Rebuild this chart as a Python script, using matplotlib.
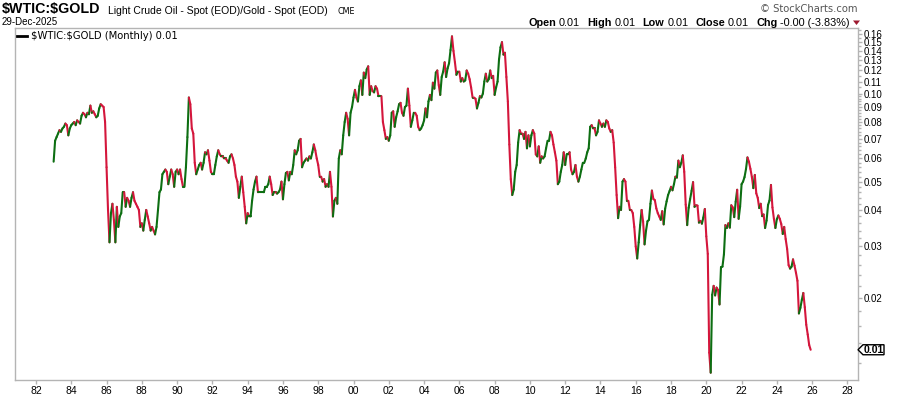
import numpy as np
import matplotlib
matplotlib.use("Agg")
import matplotlib.pyplot as plt
from matplotlib.collections import LineCollection
from matplotlib.patches import Polygon
from matplotlib.lines import Line2D

# ---------------- data: monthly $WTIC:$GOLD ratio, Jan 1983 .. Dec 2025 ----------------
start_year = 1983
r1983 = [0.0585, 0.069, 0.071, 0.073, 0.075, 0.074, 0.076, 0.077, 0.079, 0.078, 0.072, 0.076]
r1984 = [0.078, 0.079, 0.080, 0.078, 0.081, 0.080, 0.079, 0.084, 0.086, 0.085, 0.083, 0.086]
r1985 = [0.085, 0.091, 0.086, 0.087, 0.085, 0.083, 0.084, 0.089, 0.092, 0.091, 0.090, 0.080]
r1986 = [0.056, 0.040, 0.031, 0.039, 0.042, 0.037, 0.031, 0.041, 0.035, 0.038, 0.039, 0.046]
r1987 = [0.046, 0.041, 0.044, 0.043, 0.041, 0.044, 0.046, 0.043, 0.042, 0.041, 0.040, 0.035]
r1988 = [0.036, 0.034, 0.037, 0.040, 0.038, 0.036, 0.034, 0.035, 0.034, 0.033, 0.035, 0.040]
r1989 = [0.046, 0.047, 0.053, 0.054, 0.055, 0.054, 0.049, 0.052, 0.055, 0.053, 0.048, 0.054]
r1990 = [0.055, 0.053, 0.055, 0.051, 0.048, 0.048, 0.056, 0.071, 0.097, 0.092, 0.076, 0.073]
r1991 = [0.058, 0.053, 0.055, 0.057, 0.058, 0.055, 0.058, 0.063, 0.062, 0.064, 0.059, 0.054]
r1992 = [0.053, 0.053, 0.057, 0.061, 0.064, 0.062, 0.061, 0.061, 0.060, 0.060, 0.059, 0.058]
r1993 = [0.061, 0.062, 0.060, 0.057, 0.052, 0.050, 0.044, 0.048, 0.052, 0.046, 0.041, 0.036]
r1994 = [0.039, 0.038, 0.038, 0.043, 0.047, 0.050, 0.052, 0.046, 0.046, 0.046, 0.046, 0.046]
r1995 = [0.048, 0.048, 0.049, 0.052, 0.049, 0.045, 0.046, 0.046, 0.0455, 0.046, 0.047, 0.050]
r1996 = [0.0435, 0.049, 0.0535, 0.054, 0.0505, 0.054, 0.053, 0.057, 0.064, 0.062, 0.064, 0.069]
r1997 = [0.070, 0.056, 0.058, 0.059, 0.060, 0.059, 0.061, 0.060, 0.063, 0.067, 0.064, 0.060]
r1998 = [0.057, 0.052, 0.052, 0.050, 0.051, 0.048, 0.049, 0.048, 0.054, 0.048, 0.038, 0.043]
r1999 = [0.044, 0.042, 0.060, 0.064, 0.062, 0.072, 0.080, 0.086, 0.082, 0.072, 0.086, 0.090]
r2000 = [0.097, 0.103, 0.097, 0.094, 0.106, 0.111, 0.099, 0.118, 0.113, 0.121, 0.124, 0.099]
r2001 = [0.106, 0.102, 0.101, 0.106, 0.104, 0.098, 0.098, 0.098, 0.080, 0.075, 0.070, 0.071]
r2002 = [0.069, 0.072, 0.086, 0.087, 0.077, 0.083, 0.087, 0.092, 0.093, 0.086, 0.084, 0.090]
r2003 = [0.091, 0.104, 0.091, 0.077, 0.081, 0.086, 0.086, 0.084, 0.077, 0.075, 0.076, 0.078]
r2004 = [0.081, 0.089, 0.083, 0.094, 0.099, 0.095, 0.109, 0.104, 0.118, 0.120, 0.107, 0.099]
r2005 = [0.114, 0.119, 0.128, 0.114, 0.122, 0.127, 0.141, 0.157, 0.140, 0.128, 0.116, 0.119]
r2006 = [0.119, 0.110, 0.113, 0.110, 0.111, 0.120, 0.117, 0.112, 0.105, 0.097, 0.097, 0.096]
r2007 = [0.089, 0.093, 0.098, 0.097, 0.100, 0.110, 0.117, 0.110, 0.112, 0.120, 0.113, 0.115]
r2008 = [0.099, 0.105, 0.110, 0.131, 0.144, 0.150, 0.136, 0.138, 0.114, 0.094, 0.067, 0.051]
r2009 = [0.045, 0.047, 0.054, 0.057, 0.068, 0.075, 0.073, 0.073, 0.070, 0.074, 0.065, 0.072]
r2010 = [0.066, 0.072, 0.075, 0.073, 0.062, 0.061, 0.066, 0.058, 0.061, 0.060, 0.061, 0.065]
r2011 = [0.069, 0.069, 0.074, 0.072, 0.067, 0.063, 0.059, 0.049, 0.050, 0.054, 0.057, 0.063]
r2012 = [0.057, 0.062, 0.062, 0.063, 0.055, 0.053, 0.054, 0.057, 0.052, 0.050, 0.052, 0.055]
r2013 = [0.058, 0.058, 0.060, 0.063, 0.065, 0.077, 0.078, 0.076, 0.076, 0.072, 0.074, 0.081]
r2014 = [0.079, 0.077, 0.079, 0.077, 0.081, 0.080, 0.076, 0.074, 0.075, 0.068, 0.056, 0.045]
r2015 = [0.0375, 0.041, 0.040, 0.050, 0.051, 0.050, 0.043, 0.043, 0.040, 0.040, 0.039, 0.035]
r2016 = [0.030, 0.0273, 0.031, 0.0355, 0.040, 0.0365, 0.0305, 0.034, 0.0366, 0.037, 0.042, 0.0466]
r2017 = [0.0436, 0.0432, 0.0405, 0.039, 0.038, 0.037, 0.0396, 0.0357, 0.0404, 0.0428, 0.045, 0.0464]
r2018 = [0.048, 0.0467, 0.049, 0.052, 0.0516, 0.059, 0.056, 0.058, 0.0615, 0.054, 0.0417, 0.0355]
r2019 = [0.0407, 0.0436, 0.0465, 0.0498, 0.041, 0.0415, 0.0414, 0.0362, 0.0367, 0.0359, 0.0377, 0.0403]
r2020 = [0.0325, 0.0283, 0.013, 0.0111, 0.0205, 0.022, 0.0204, 0.0217, 0.0213, 0.019, 0.0255, 0.0256]
r2021 = [0.0282, 0.0355, 0.0347, 0.036, 0.0348, 0.0415, 0.0408, 0.0378, 0.0427, 0.0469, 0.0373, 0.0411]
r2022 = [0.049, 0.050, 0.0518, 0.0552, 0.0605, 0.0585, 0.0553, 0.0519, 0.0475, 0.0527, 0.0456, 0.044]
r2023 = [0.0406, 0.042, 0.0381, 0.0386, 0.0347, 0.0368, 0.0416, 0.0431, 0.0487, 0.0408, 0.0373, 0.0347]
r2024 = [0.0372, 0.0383, 0.0373, 0.0358, 0.0331, 0.035, 0.0318, 0.0294, 0.0259, 0.0252, 0.0256, 0.0271]
r2025 = [0.0258, 0.0244, 0.0229, 0.0177, 0.0185, 0.0197, 0.0208, 0.0186, 0.0162, 0.0150, 0.0138, 0.0133]

yearly = [r1983, r1984, r1985, r1986, r1987, r1988, r1989, r1990, r1991, r1992,
          r1993, r1994, r1995, r1996, r1997, r1998, r1999, r2000, r2001, r2002,
          r2003, r2004, r2005, r2006, r2007, r2008, r2009, r2010, r2011, r2012,
          r2013, r2014, r2015, r2016, r2017, r2018, r2019, r2020, r2021, r2022,
          r2023, r2024, r2025]

y_ticks = [0.02, 0.03, 0.04, 0.05, 0.06, 0.07, 0.08, 0.09, 0.10, 0.11, 0.12, 0.13, 0.14, 0.15, 0.16]
x_tick_years = list(range(1982, 2029, 2))
x_tick_labels = ["%02d" % (y % 100) for y in x_tick_years]

title_sym = r"\$WTIC:\$GOLD"
title_desc = "Light Crude Oil - Spot (EOD)/Gold - Spot (EOD)"
exchange = "CME"
date_str = "29-Dec-2025"
legend_str = r"\$WTIC:\$GOLD (Monthly) 0.01"
last_label = "0.01"
ohlc = [("Open", True), ("0.01", False), ("High", True), ("0.01", False),
        ("Low", True), ("0.01", False), ("Close", True), ("0.01", False),
        ("Chg", True), ("-0.00 (-3.83%)", False)]

values = np.concatenate([np.array(v, dtype=float) for v in yearly])
dates = start_year + np.arange(len(values)) / 12.0

# ---------------- figure ----------------
W, H = 900, 396
fig = plt.figure(figsize=(W / 100, H / 100), dpi=100)
fig.patch.set_facecolor("white")

def fx(px):
    return px / W

def fy(py):
    return 1 - py / H

L, R, T, B = 15, 858, 28, 380
ax = fig.add_axes([fx(L), fy(B), (R - L) / W, (B - T) / H])
ax.set_yscale("log")
ax.set_xlim(1980.81, 2028.6)
ax.set_ylim(0.01048, 0.1677)

UP = "#0d6e12"
DN = "#d4163c"
pts = np.column_stack([dates, values])
segs = np.stack([pts[:-1], pts[1:]], axis=1)
cols = [UP if values[i + 1] >= values[i] else DN for i in range(len(values) - 1)]
lc = LineCollection(segs, colors=cols, linewidths=1.5, capstyle="round", joinstyle="round")
ax.add_collection(lc)

frame = "#b4b4b4"
for s in ax.spines.values():
    s.set_color(frame)
    s.set_linewidth(1.0)

ax.yaxis.tick_right()
ax.set_yticks(y_ticks)
ax.set_yticklabels(["%.2f" % v for v in y_ticks])
minor = [v for v in np.arange(0.012, 0.1, 0.002) if all(abs(v - m) > 1e-6 for m in y_ticks)]
minor += [v for v in np.arange(0.105, 0.166, 0.005) if all(abs(v - m) > 1e-6 for m in y_ticks)]
ax.set_yticks(minor, minor=True)
ax.yaxis.set_minor_formatter(matplotlib.ticker.NullFormatter())
ax.tick_params(axis="y", which="major", length=3, width=1, color=frame, pad=1,
               labelsize=7.0, labelcolor="black", right=True, left=False)
ax.tick_params(axis="y", which="minor", length=2, width=1, color=frame, right=True, left=False)
for lab in ax.get_yticklabels():
    lab.set_family(["Liberation Sans", "DejaVu Sans"])

ax.set_xticks(x_tick_years)
ax.set_xticklabels(x_tick_labels)
ax.xaxis.set_minor_locator(matplotlib.ticker.NullLocator())
ax.tick_params(axis="x", which="major", length=3, width=1, color=frame, pad=1.5,
               labelsize=7.5, labelcolor="black")
for lab in ax.get_xticklabels():
    lab.set_family(["Liberation Sans Narrow", "Liberation Sans", "DejaVu Sans"])

# ---------------- header ----------------
sans = ["Liberation Sans", "DejaVu Sans"]
fig.text(fx(2), fy(13.5), title_sym, fontsize=10.3, fontweight="bold", family=sans,
         va="baseline", ha="left")
fig.text(fx(108), fy(13.5), title_desc, fontsize=7.5, family=sans, va="baseline", ha="left")
fig.text(fx(337), fy(13.5), exchange, fontsize=5.8, family=["DejaVu Sans"], va="baseline", ha="left")
fig.text(fx(2), fy(25), date_str, fontsize=7, family=sans, va="baseline", ha="left")

fig.text(fx(858), fy(9.5), "\u00a9 StockCharts.com", fontsize=7.2, family=["DejaVu Sans"],
         color="#555555", va="center", ha="right")

renderer = fig.canvas.get_renderer()
objs = []
for s, b in ohlc:
    t = fig.text(0, fy(22.5), s, fontsize=7.8, family=sans,
                 fontweight="bold" if b else "normal", va="center", ha="left")
    objs.append((t, t.get_window_extent(renderer).width, b))
total = 0
for i, (t, w, b) in enumerate(objs):
    total += w
    if i < len(objs) - 1:
        total += 3 if b else 7
x = 850 - total
for i, (t, w, b) in enumerate(objs):
    t.set_x(fx(x))
    x += w + (3 if b else 7)
tri = Polygon([[fx(853), fy(20.5)], [fx(860), fy(20.5)], [fx(856.5), fy(25)]], closed=True,
              transform=fig.transFigure, facecolor="#9e1a30", edgecolor="none")
fig.patches.append(tri)

# legend inside plot
fig.lines.append(Line2D([fx(17), fx(27)], [fy(35.5), fy(35.5)], transform=fig.transFigure,
                        color="black", linewidth=2))
fig.text(fx(31), fy(36), legend_str, fontsize=7.2, family=["DejaVu Sans"], va="center", ha="left")

# last value marker on right axis
yd = ax.transData.transform((dates[-1], values[-1]))[1]
py = H - yd
poly = Polygon([[fx(858), fy(py)], [fx(863), fy(py - 5)], [fx(884), fy(py - 5)],
                [fx(884), fy(py + 5)], [fx(863), fy(py + 5)]], closed=True,
               transform=fig.transFigure, facecolor="white", edgecolor="black", linewidth=1)
fig.patches.append(poly)
fig.text(fx(873.5), fy(py), last_label, fontsize=7.5, fontweight="bold", family=sans,
         va="center", ha="center")

fig.savefig("out.png", dpi=100, facecolor="white")
